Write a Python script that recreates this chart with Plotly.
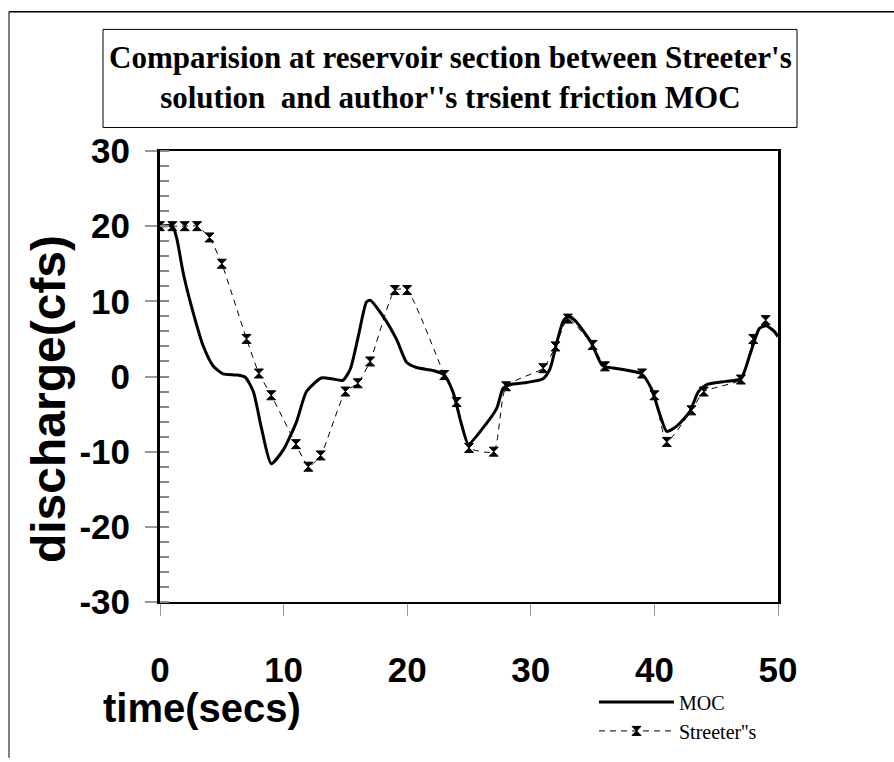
import plotly.graph_objects as go

# ---- data ----
moc_t = [0, 1, 1.35, 1.9, 2.7, 3.5, 4.3, 5.1, 6.2, 6.9, 7.55, 8.2, 9.0, 10.0, 11.05, 11.85,
         13.05, 13.9, 14.8, 15.4, 16.05, 16.7, 17.0, 18.05, 19.15, 19.95, 20.75, 22.1, 23.0,
         23.7, 24.4, 24.95, 26.15, 27.25, 27.75, 28.3, 29.65, 31.0, 31.55, 32.1, 32.6, 33.0,
         33.55, 34.9, 35.8, 37.2, 38.95, 39.75, 40.45, 41.0, 41.8, 42.85, 43.55, 44.2, 45.8,
         47.0, 47.7, 48.5, 49.05, 49.7, 50.0]
moc_q = [20, 20, 18.4, 13.6, 8.4, 4.05, 1.4, 0.35, 0.2, -0.1, -2.0, -6.8, -11.6, -9.7, -6.0, -2.0,
         -0.2, -0.3, -0.5, 1.0, 5.4, 9.9, 10.15, 8.0, 4.9, 1.9, 1.2, 0.8, 0.2,
         -2.05, -6.4, -9.0, -6.8, -4.2, -1.6, -1.1, -0.8, -0.3, 1.0, 4.5, 7.3, 8.0,
         7.5, 4.5, 1.45, 1.0, 0.35, -1.6, -5.1, -7.3, -6.6, -4.7, -2.05, -1.1, -0.65,
         -0.3, 2.75, 6.4, 6.75, 6.0, 5.3]

str_t = [0, 1, 2, 3, 4, 5, 7, 8, 9, 11, 12, 13, 15, 16, 17, 19, 20, 23, 24, 25, 27, 28,
         31, 32, 33, 35, 36, 39, 40, 41, 43, 44, 47, 48, 49]
str_q = [20, 20, 20, 20, 18.5, 15, 5, 0.4, -2.5, -9, -12, -10.5, -2, -0.9, 2, 11.5, 11.5,
         0.2, -3.4, -9.5, -10, -1.3, 1.1, 4, 7.7, 4.2, 1.35, 0.4, -2.5, -8.7, -4.5, -2,
         -0.4, 5, 7.5]

x_ticks = [0, 10, 20, 30, 40, 50]
y_ticks = [-30, -20, -10, 0, 10, 20, 30]

title_text = "Comparision at reservoir section between Streeter's<br>solution  and author''s trsient friction MOC"
x_title = "time(secs)"
y_title = "discharge(cfs)"
names = ["MOC", "Streeter''s"]

# ---- figure ----
W, H = 894, 762
L, R, T, B = 160, 778, 151, 611
pw, ph = R - L, B - T


def px(x):
    return (x - L) / pw


def py(y):
    return (B - y) / ph


fig = go.Figure()
fig.add_trace(go.Scatter(x=moc_t, y=moc_q, mode="lines", name=names[0],
                         line=dict(color="black", width=3, shape="spline", smoothing=0.6)))
fig.add_trace(go.Scatter(x=str_t, y=str_q, mode="lines+markers", name=names[1],
                         line=dict(color="black", width=1, dash="6px,5px", shape="spline", smoothing=0.5),
                         marker=dict(symbol="hourglass", size=9, color="black",
                                     line=dict(color="black", width=1))))

font_b = dict(family="Liberation Sans, Arial", size=35, color="black", weight="bold")

fig.update_layout(
    width=W, height=H,
    margin=dict(l=L, r=W - R, t=T, b=H - B, pad=0),
    paper_bgcolor="white", plot_bgcolor="white",
    showlegend=True,
    legend=dict(x=px(594), y=py(693), xanchor="left", yanchor="top",
                font=dict(family="Liberation Serif, Times New Roman", size=20, color="black"),
                itemwidth=75, tracegroupgap=0,
                bgcolor="rgba(0,0,0,0)"),
    xaxis=dict(range=[0, 50], tickvals=x_ticks, ticktext=[str(v) for v in x_ticks],
               showgrid=False, zeroline=False, showline=True, linecolor="black",
               linewidth=2, mirror=True, ticks="outside", ticklen=12, tickcolor="#999",
               tickwidth=1, tickfont=font_b, ticklabelstandoff=24),
    yaxis=dict(range=[-30, 30], tickvals=y_ticks, ticktext=[str(v) for v in y_ticks],
               showgrid=False, zeroline=False, showline=True, linecolor="black",
               linewidth=3, mirror=True, ticks="outside", ticklen=12, tickcolor="#999",
               tickwidth=2, tickfont=font_b, ticklabelstandoff=8,
               minor=dict(dtick=2, ticks="inside", ticklen=9, tickcolor="#888", tickwidth=2)),
    shapes=[
        # outer chart frame (cut at right/bottom)
        dict(type="line", xref="paper", yref="paper", x0=px(9), y0=py(9), x1=px(900), y1=py(9),
             line=dict(color="black", width=1.5)),
        dict(type="line", xref="paper", yref="paper", x0=px(9), y0=py(9), x1=px(9), y1=py(770),
             line=dict(color="black", width=1)),
        # title box
        dict(type="rect", xref="paper", yref="paper", x0=px(103), y0=py(127), x1=px(797), y1=py(27),
             line=dict(color="black", width=1), fillcolor="rgba(0,0,0,0)"),
    ],
    annotations=[
        dict(text=title_text, xref="paper", yref="paper", x=px(450), y=py(76),
             xanchor="center", yanchor="middle", showarrow=False,
             font=dict(family="Liberation Serif, Times New Roman", size=31, color="black", weight="bold")),
        dict(text=y_title, xref="paper", yref="paper", x=px(48), y=py(404),
             xanchor="center", yanchor="middle", showarrow=False, textangle=-90,
             font=dict(family="Liberation Sans, Arial", size=48, color="black", weight="bold")),
        dict(text=x_title, xref="paper", yref="paper", x=px(202), y=py(719),
             xanchor="center", yanchor="middle", showarrow=False,
             font=dict(family="Liberation Sans, Arial", size=40, color="black", weight="bold")),
    ],
)

fig.write_html("out.html")
